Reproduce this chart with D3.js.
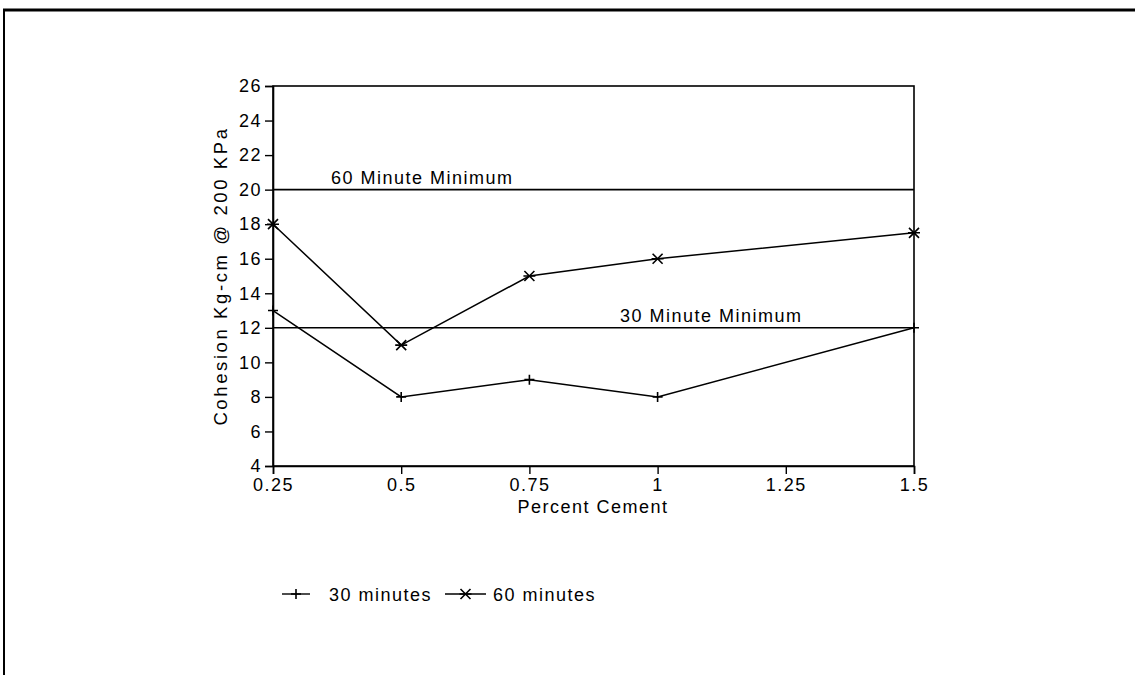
<!DOCTYPE html>
<html>
<head>
<meta charset="utf-8">
<script src="https://cdn.jsdelivr.net/npm/d3@7"></script>
<style>
  html, body { margin: 0; padding: 0; background: #fff; }
  svg text { font-family: "Liberation Sans", Arial, sans-serif; fill: #000; }
</style>
</head>
<body>
<svg id="chart" width="1135" height="675"></svg>
<script>
// Cement content (percent) tested
const percentCement = [0.25, 0.5, 0.75, 1, 1.5];
// Cohesion (Kg-cm @ 200 KPa) after 30 and 60 minutes
const cohesion30 = [13, 8, 9, 8, 12];
const cohesion60 = [18, 11, 15, 16, 17.5];
// Required minimums
const minimumLabels = ["60 Minute Minimum", "30 Minute Minimum"];
const minimumValues = [20, 12];
// Axis ticks
const xTicks = [0.25, 0.5, 0.75, 1, 1.25, 1.5];
const xTickLabels = ["0.25", "0.5", "0.75", "1", "1.25", "1.5"];
const yTicks = [4, 6, 8, 10, 12, 14, 16, 18, 20, 22, 24, 26];
const seriesNames = ["30 minutes", "60 minutes"];

const svg = d3.select("#chart");
const plotLeft = 273, plotRight = 914, plotTop = 86, plotBottom = 466;
const fs = 18, ls = 1.5;

const x = d3.scaleLinear().domain([0.25, 1.5]).range([plotLeft, plotRight]);
const y = d3.scaleLinear().domain([4, 26]).range([plotBottom, plotTop]);

// page frame (top and left rules)
svg.append("line").attr("x1", 3).attr("x2", 1135).attr("y1", 10).attr("y2", 10)
  .attr("stroke", "#000").attr("stroke-width", 3);
svg.append("line").attr("x1", 4).attr("x2", 4).attr("y1", 9).attr("y2", 675)
  .attr("stroke", "#000").attr("stroke-width", 2);

// plot box
svg.append("rect").attr("x", plotLeft).attr("y", plotTop)
  .attr("width", plotRight - plotLeft).attr("height", plotBottom - plotTop)
  .attr("fill", "none").attr("stroke", "#000").attr("stroke-width", 1.6);

// axes
const xAxis = d3.axisBottom(x).tickValues(xTicks)
  .tickFormat((d, i) => xTickLabels[i]).tickSize(8).tickPadding(4);
const gx = svg.append("g").attr("transform", `translate(0,${plotBottom})`).call(xAxis);
const yAxis = d3.axisLeft(y).tickValues(yTicks).tickSize(8).tickPadding(3);
const gy = svg.append("g").attr("transform", `translate(${plotLeft},0)`).call(yAxis);
[gx, gy].forEach(g => {
  g.select(".domain").attr("stroke", "#000").attr("stroke-width", 1.6);
  g.selectAll(".tick line").attr("stroke", "#000").attr("stroke-width", 1.4);
  g.selectAll(".tick text").attr("font-size", fs).attr("letter-spacing", ls)
    .attr("font-family", "Liberation Sans, Arial, sans-serif").attr("fill", "#000");
});

// axis titles
svg.append("text").attr("x", 593).attr("y", 513).attr("text-anchor", "middle")
  .attr("font-size", fs).attr("letter-spacing", ls).text("Percent Cement");
svg.append("text").attr("transform", `translate(227,${(plotTop + plotBottom) / 2}) rotate(-90)`)
  .attr("text-anchor", "middle").attr("font-size", 18.5).attr("letter-spacing", 2.6)
  .text("Cohesion Kg-cm @ 200 KPa");

// minimum lines and their labels
const labelX = [331, 620];
minimumValues.forEach((v, i) => {
  svg.append("line").attr("x1", plotLeft).attr("x2", plotRight)
    .attr("y1", y(v)).attr("y2", y(v))
    .attr("stroke", "#000").attr("stroke-width", 1.6);
  svg.append("text").attr("x", labelX[i]).attr("y", y(v) - 6)
    .attr("font-size", fs).attr("letter-spacing", ls).text(minimumLabels[i]);
});

// markers
function plusMarker(g, cx, cy) {
  g.append("path").attr("d", `M${cx - 5},${cy}H${cx + 5}M${cx},${cy - 5}V${cy + 5}`)
    .attr("stroke", "#000").attr("stroke-width", 1.6).attr("fill", "none");
}
function starMarker(g, cx, cy) {
  const a = 6, dx = 5, dy = 5;
  g.append("path").attr("d",
    `M${cx - a},${cy}H${cx + a}M${cx - dx},${cy - dy}L${cx + dx},${cy + dy}M${cx - dx},${cy + dy}L${cx + dx},${cy - dy}`)
    .attr("stroke", "#000").attr("stroke-width", 1.6).attr("fill", "none");
}

const line = d3.line().x(d => x(d[0])).y(d => y(d[1]));
const series = [
  { vals: cohesion30, marker: plusMarker },
  { vals: cohesion60, marker: starMarker }
];
series.forEach(s => {
  const pts = percentCement.map((p, i) => [p, s.vals[i]]);
  svg.append("path").datum(pts).attr("d", line)
    .attr("fill", "none").attr("stroke", "#000").attr("stroke-width", 1.5);
  const g = svg.append("g");
  pts.forEach(p => s.marker(g, x(p[0]), y(p[1])));
});

// legend
const legY = 594;
const legItems = [
  { x1: 282, x2: 310, tx: 329, marker: plusMarker },
  { x1: 445, x2: 486, tx: 493, marker: starMarker }
];
legItems.forEach((it, i) => {
  const g = svg.append("g");
  g.append("line").attr("x1", it.x1).attr("x2", it.x2).attr("y1", legY).attr("y2", legY)
    .attr("stroke", "#000").attr("stroke-width", 1.4);
  it.marker(g, (it.x1 + it.x2) / 2, legY);
  g.append("text").attr("x", it.tx).attr("y", legY + 7)
    .attr("font-size", fs).attr("letter-spacing", ls).text(seriesNames[i]);
});
</script>
</body>
</html>
